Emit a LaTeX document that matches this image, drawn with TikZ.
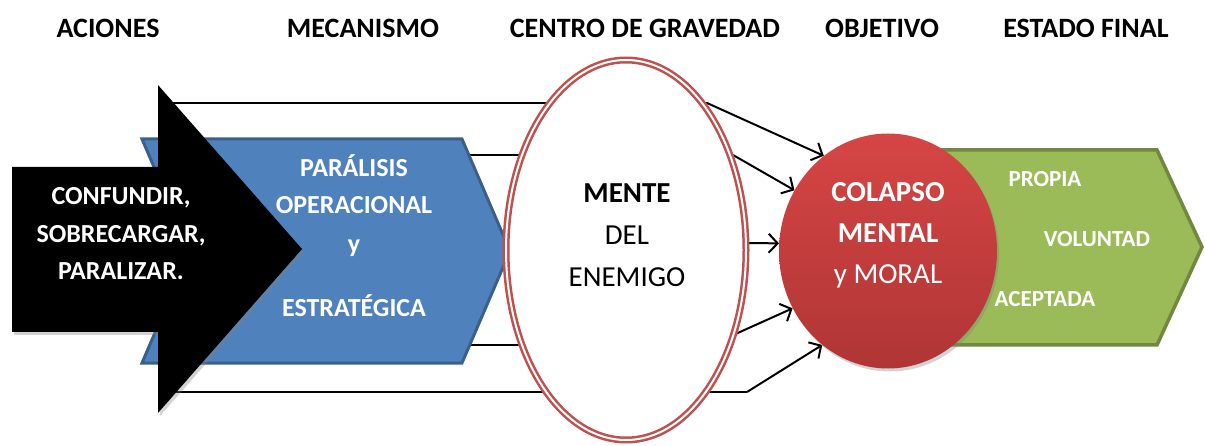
\documentclass[tikz,border=0pt]{standalone}
\usepackage{fontspec}
\setmainfont{Carlito}
\usetikzlibrary{arrows.meta,shapes.geometric,shadows,positioning}
\definecolor{azul}{HTML}{4F81BD}
\definecolor{azulborde}{HTML}{3A5F8B}
\definecolor{verde}{HTML}{9BBB59}
\definecolor{verdeborde}{HTML}{71893F}
\definecolor{rojo}{HTML}{C0504D}
\definecolor{rojoalto}{HTML}{D64545}
\definecolor{rojobajo}{HTML}{B03535}
\tikzset{linea/.style={line width=2pt}}
\tikzset{flecha/.style={line width=2pt, -{Straight Barb[length=9pt,width=19pt]}}}
\tikzset{tit/.style={font=\fontsize{28}{30}\selectfont\bfseries, anchor=base}}
\tikzset{blanco/.style={font=\fontsize{26}{30}\selectfont\bfseries, anchor=base, text=white}}
\tikzset{sombra/.style={drop shadow={opacity=0.35, shadow xshift=2pt, shadow yshift=-3pt}}}

\begin{document}
\begin{tikzpicture}[x=1pt, y=-1pt]
    \tikzstyle{mente}=[font=\fontsize{29}{32}\selectfont, anchor=base]
    \tikzstyle{meta}=[font=\fontsize{23}{26}\selectfont\bfseries, anchor=base, text=white]
    \useasboundingbox (0,0) rectangle (1205,446);
    % titulos
    \node[tit] (t1) at (108,38) {ACIONES};
    \node[tit] (t2) at (363,38) {MECANISMO};
    \node[tit] (t3) at (645,38) {CENTRO DE GRAVEDAD};
    \node[tit] (t4) at (882,38) {OBJETIVO};
    \node[tit] (t5) at (1086,38) {ESTADO FINAL};
    % puntos de las lineas
    \coordinate (a1) at (160,103);
    \coordinate (b1) at (707,103);
    \coordinate (a2) at (450,155);
    \coordinate (b2) at (733,155);
    \coordinate (a3) at (500,240);
    \coordinate (a4) at (450,345);
    \coordinate (b4) at (711,345);
    \coordinate (a5) at (160,392);
    \coordinate (b5) at (747,392);
    % objetivo (se dibuja despues)
    \path (888,251) coordinate (cc);
    \path (cc) node[ellipse, minimum width=218, minimum height=235, inner sep=0] (colapso0) {};
    \draw[linea] (a1) -- (b1);
    \draw[flecha] (b1) -- (colapso0.124);
    \draw[linea] (a2) -- (b2);
    \draw[flecha] (b2) -- (colapso0.147);
    \draw[flecha] (a3) -- (colapso0.176);
    \draw[linea] (a4) -- (b4);
    \draw[flecha] (b4) -- (colapso0.211);
    \draw[linea] (a5) -- (b5);
    \draw[flecha] (b5) -- (colapso0.235);
    % estado final
    \filldraw[fill=verde, draw=verdeborde, line width=3.5pt]
        (925,150) -- (1157,150) -- (1202,247) -- (1157,345) -- (925,345) -- (973,247) -- cycle;
    % mecanismo
    \filldraw[fill=azul, draw=azulborde, line width=3pt]
        (142,139) -- (462,139) -- (510,251) -- (462,363) -- (142,363) -- (190,251) -- cycle;
    % acciones
    \fill[black, sombra]
        (12,167) -- (158,167) -- (158,85) -- (302,249) -- (158,413) -- (158,332) -- (12,332) -- cycle;
    % centro de gravedad
    \node[ellipse, draw=rojo, line width=2.5pt, double=white, double distance=2pt, fill=white,
          minimum width=240, minimum height=380, inner sep=0, sombra] (centro) at (626,250) {};
    \node[ellipse, top color=rojoalto, bottom color=rojobajo, minimum width=218,
          minimum height=235, inner sep=0, sombra] (colapso) at (cc) {};
    % textos
    \node[blanco] (c1) at (121,205) {CONFUNDIR,};
    \node[blanco] (c2) at (121,243) {SOBRECARGAR,};
    \node[blanco] (c3) at (121,280) {PARALIZAR.};
    \node[blanco] (p1) at (354,177) {PARÁLISIS};
    \node[blanco] (p2) at (354,214) {OPERACIONAL};
    \node[blanco] (p3) at (354,253) {y};
    \node[blanco] (p4) at (354,317) {ESTRATÉGICA};
    \node[mente, font=\fontsize{29}{32}\selectfont\bfseries] (m1) at (627,203) {MENTE};
    \node[mente] (m2) at (627,245) {DEL};
    \node[mente] (m3) at (627,287) {ENEMIGO};
    \node[mente, text=white, font=\fontsize{29}{32}\selectfont\bfseries] (o1) at (888,202) {COLAPSO};
    \node[mente, text=white, font=\fontsize{29}{32}\selectfont\bfseries] (o2) at (888,243) {MENTAL};
    \node[mente, text=white] (o3) at (888,284) {y MORAL};
    \node[meta] (e1) at (1045,187) {PROPIA};
    \node[meta] (e2) at (1097,247) {VOLUNTAD};
    \node[meta] (e3) at (1045,307) {ACEPTADA};
\end{tikzpicture}
\end{document}
